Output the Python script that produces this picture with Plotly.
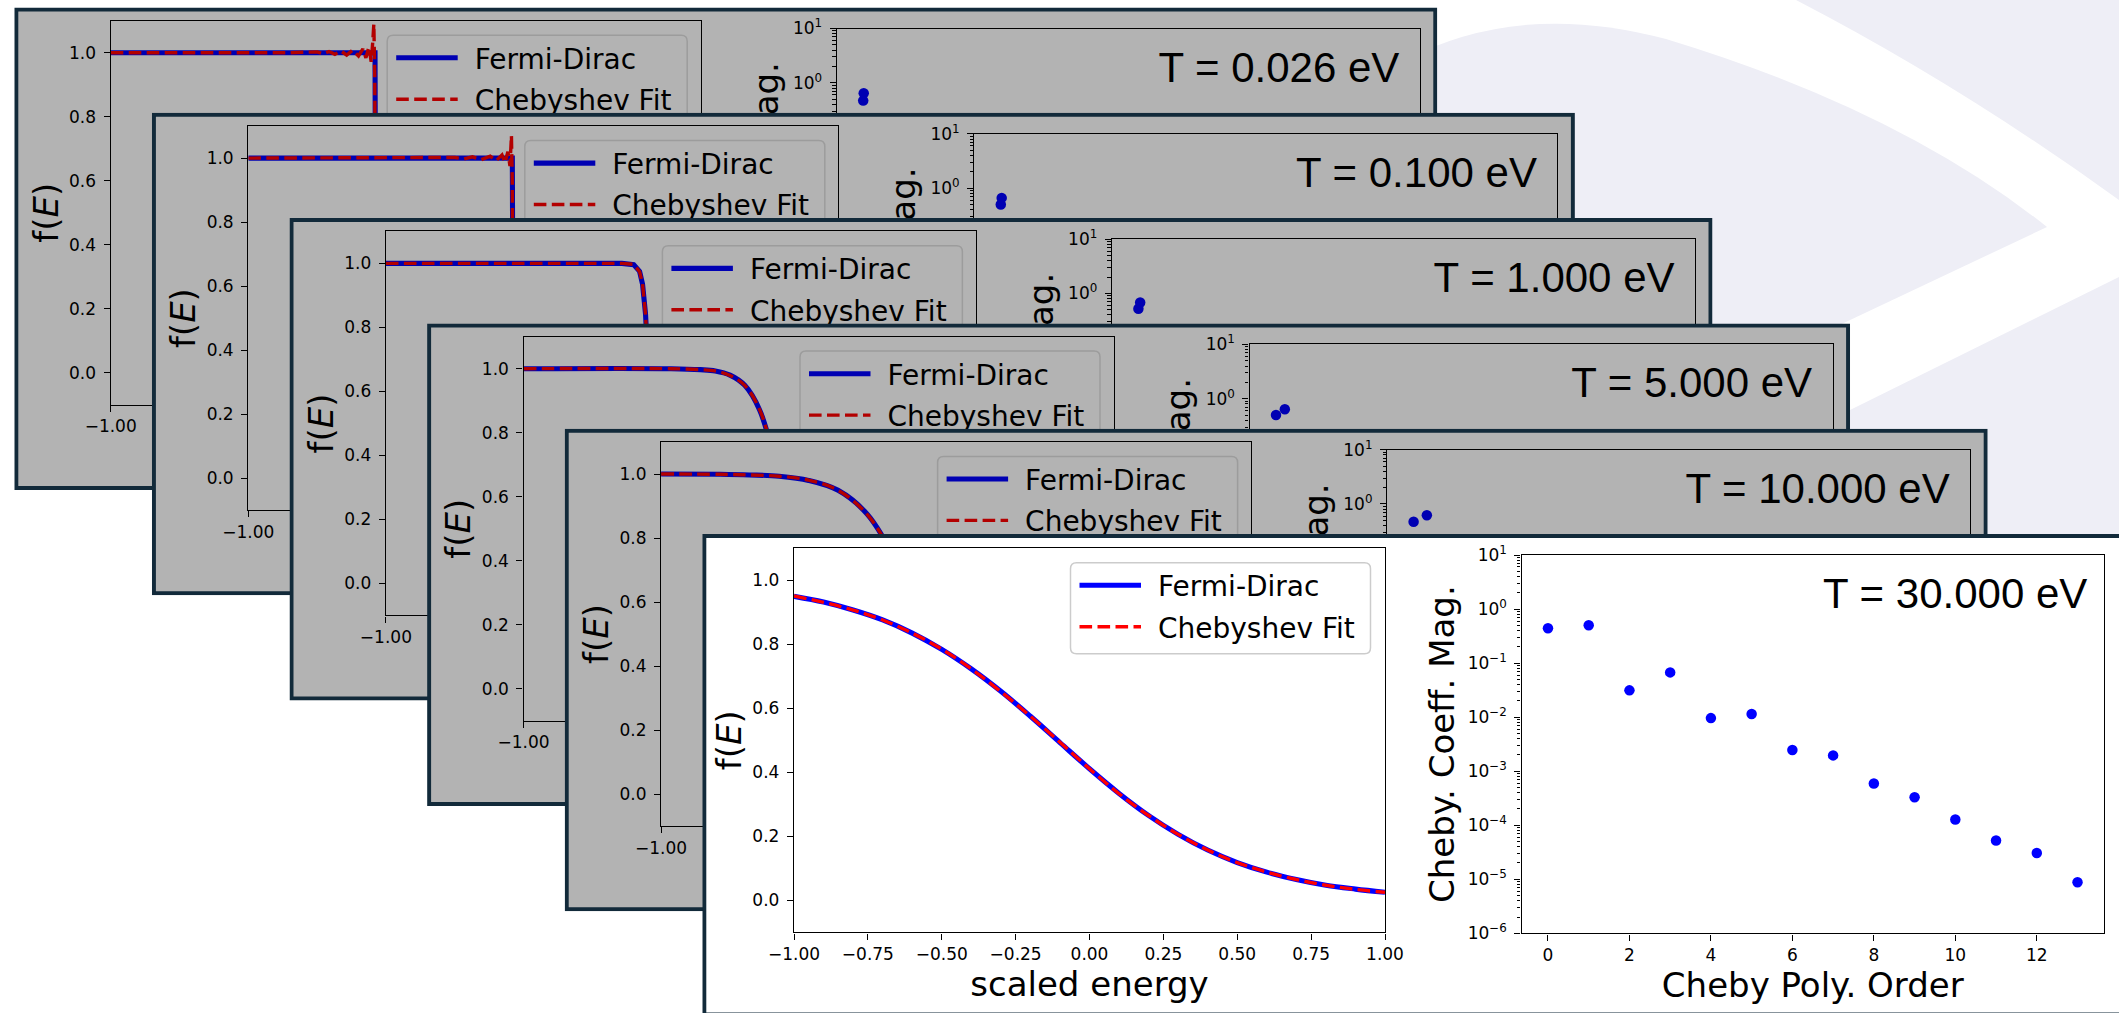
import plotly.graph_objects as go

W, H = 2119, 1013

# ---------------- data ----------------
TEMP_LABELS = ["T = 0.026 eV", "T = 0.100 eV", "T = 1.000 eV",
               "T = 5.000 eV", "T = 10.000 eV", "T = 30.000 eV"]
SERIES_NAMES = ["Fermi-Dirac", "Chebyshev Fit"]
COEF_TITLE = "Cheby. Coeff. Mag."

# T = 0.026 eV
E1_FD = [-1.0, -0.104, -0.101, 1.0]
F1_FD = [1.0, 1.0, 0.0, 0.0]
E1_FIT = [-1.0, -0.40, -0.30, -0.28, -0.26, -0.24, -0.22, -0.20, -0.18, -0.16,
          -0.145, -0.135, -0.125, -0.117, -0.112, -0.108, -0.105, -0.102, -0.097, 1.0]
F1_FIT = [1.0, 1.0, 1.003, 0.997, 1.004, 0.995, 1.006, 0.993, 1.008, 0.99,
          1.012, 0.984, 1.018, 0.972, 1.03, 1.09, 0.93, 0.3, 0.0, 0.0]
# T = 0.100 eV
E2_FD = [-1.0, -0.105, -0.101, 1.0]
F2_FD = [1.0, 1.0, 0.0, 0.0]
E2_FIT = [-1.0, -0.36, -0.30, -0.27, -0.24, -0.21, -0.18, -0.16, -0.14, -0.13,
          -0.12, -0.113, -0.108, -0.105, -0.102, -0.097, 1.0]
F2_FIT = [1.0, 1.0, 1.002, 0.997, 1.004, 0.995, 1.006, 0.992, 1.01, 0.986,
          1.02, 0.975, 1.07, 0.92, 0.3, 0.0, 0.0]
# T = 1.000 eV
E3 = [-1.0, -0.20, -0.16, -0.14, -0.13, -0.12, -0.11, -0.10, -0.09, -0.08, -0.07, -0.05, 0.0, 1.0]
F3_FD = [1.0, 1.0, 0.996, 0.975, 0.935, 0.843, 0.666, 0.426, 0.216, 0.093, 0.037, 0.005, 0.0, 0.0]
F3_FIT = [1.0, 1.0, 0.997, 0.974, 0.936, 0.842, 0.667, 0.425, 0.217, 0.092, 0.038, 0.004, 0.001, 0.0]
# T = 5.000 eV
E4 = [-1.0, -0.5, -0.4, -0.35, -0.3, -0.25, -0.2, -0.15, -0.1, -0.05, 0.0, 0.05, 0.1, 0.2, 1.0]
F4_FD = [1.0, 1.0, 0.997, 0.993, 0.980, 0.948, 0.872, 0.717, 0.485, 0.259, 0.115, 0.046, 0.018, 0.003, 0.0]
F4_FIT = [1.0, 1.0, 0.997, 0.993, 0.979, 0.948, 0.873, 0.716, 0.486, 0.258, 0.116, 0.045, 0.019, 0.003, 0.0]
# T = 10.000 eV
E5 = [-1.0, -0.8, -0.7, -0.6, -0.5, -0.4, -0.3, -0.2, -0.1, 0.0, 0.1, 0.2, 0.3, 0.5, 1.0]
F5_FD = [1.0, 0.999, 0.997, 0.993, 0.980, 0.949, 0.873, 0.719, 0.488, 0.261, 0.116, 0.047, 0.018, 0.003, 0.0]
F5_FIT = [1.0, 0.999, 0.997, 0.993, 0.981, 0.949, 0.872, 0.719, 0.489, 0.260, 0.117, 0.046, 0.018, 0.004, 0.0]
# T = 30.000 eV
E6 = [-1.0, -0.9, -0.8, -0.7, -0.6, -0.5, -0.4, -0.3, -0.2, -0.1, 0.0,
      0.1, 0.2, 0.3, 0.4, 0.5, 0.6, 0.7, 0.8, 0.9, 1.0]
F6_FD = [0.950, 0.932, 0.907, 0.876, 0.835, 0.784, 0.723, 0.653, 0.575, 0.493, 0.411,
         0.334, 0.265, 0.206, 0.157, 0.118, 0.088, 0.065, 0.047, 0.035, 0.025]
F6_FIT = [0.951, 0.931, 0.907, 0.876, 0.835, 0.785, 0.723, 0.652, 0.575, 0.494, 0.411,
          0.333, 0.265, 0.206, 0.157, 0.118, 0.088, 0.065, 0.047, 0.034, 0.025]

# Chebyshev coefficient magnitudes (only the first two are visible on stacked cards)
ORDERS_LOW = [0, 1]
COEF_1 = [0.47, 0.64]
COEF_2 = [0.50, 0.66]
COEF_3 = [0.52, 0.68]
COEF_4 = [0.50, 0.64]
COEF_5 = [0.47, 0.62]
ORDERS_6 = [0, 1, 2, 3, 4, 5, 6, 7, 8, 9, 10, 11, 12, 13]
COEF_6 = [0.44, 0.50, 0.0313, 0.0673, 0.0096, 0.0114, 0.00246, 0.00196,
          5.9e-4, 3.3e-4, 1.28e-4, 5.2e-5, 3.05e-5, 8.8e-6]
N_TERMS = [1000, 600, 300, 60, 40, 13]   # extent of the order axis per card

X_TICKS = [-1.0, -0.75, -0.5, -0.25, 0.0, 0.25, 0.5, 0.75, 1.0]
Y_TICKS = [0.0, 0.2, 0.4, 0.6, 0.8, 1.0]
ORDER_TICKS = [0, 2, 4, 6, 8, 10, 12]
LOG_TICKS = [1e-6, 1e-5, 1e-4, 1e-3, 1e-2, 1e-1, 1e0, 1e1]
LOG_TICKTEXT = ["10<sup>\u22126</sup>", "10<sup>\u22125</sup>", "10<sup>\u22124</sup>",
                "10<sup>\u22123</sup>", "10<sup>\u22122</sup>", "10<sup>\u22121</sup>",
                "10<sup>0</sup>", "10<sup>1</sup>"]

cards = [
    dict(label=TEMP_LABELS[0], e_fd=E1_FD, f_fd=F1_FD, e_fit=E1_FIT, f_fit=F1_FIT,
         orders=ORDERS_LOW, coef=COEF_1, n=N_TERMS[0], shape="linear"),
    dict(label=TEMP_LABELS[1], e_fd=E2_FD, f_fd=F2_FD, e_fit=E2_FIT, f_fit=F2_FIT,
         orders=ORDERS_LOW, coef=COEF_2, n=N_TERMS[1], shape="linear"),
    dict(label=TEMP_LABELS[2], e_fd=E3, f_fd=F3_FD, e_fit=E3, f_fit=F3_FIT,
         orders=ORDERS_LOW, coef=COEF_3, n=N_TERMS[2], shape="linear"),
    dict(label=TEMP_LABELS[3], e_fd=E4, f_fd=F4_FD, e_fit=E4, f_fit=F4_FIT,
         orders=ORDERS_LOW, coef=COEF_4, n=N_TERMS[3], shape="spline"),
    dict(label=TEMP_LABELS[4], e_fd=E5, f_fd=F5_FD, e_fit=E5, f_fit=F5_FIT,
         orders=ORDERS_LOW, coef=COEF_5, n=N_TERMS[4], shape="spline"),
    dict(label=TEMP_LABELS[5], e_fd=E6, f_fd=F6_FD, e_fit=E6, f_fit=F6_FIT,
         orders=ORDERS_6, coef=COEF_6, n=N_TERMS[5], shape="spline"),
]

# ---------------- styling / geometry ----------------
FONT = "DejaVu Sans"
TFONT = "Liberation Sans, Arial, sans-serif"
BORDER = "#122a3a"
GRAY = "#b3b3b3"
LAV = "#eeeef6"

CARD_X0, CARD_Y0 = 14.3, 7.5
STEP_X, STEP_Y = 137.6, 105.3
CARD_W, CARD_H = 1423.0, 482.5
LEFT_LOW = (96.4, 13.3, 590.0, 384.0)
LEFT_FRONT = (91.7, 14.3, 591.0, 384.0)
RIGHT_LOW = (822.4, 21.0, 583.0, 380.0)
RIGHT_FRONT = (819.2, 21.0, 582.5, 378.3)
LEG_BOX = (276.5, 14.4, 576.5, 105.4)   # legend frame inside the f(E) panel, px
LEG_R = 6.0

MINOR_VALS = [m * 10.0 ** e for e in range(-6, 1) for m in range(2, 10)]

fig = go.Figure()
lay = {}
shapes = []


def axkey(kind, n):
    return f"{kind}axis" if n == 1 else f"{kind}axis{n}"


def axref(kind, n):
    return kind if n == 1 else f"{kind}{n}"


def dom(x0, y0, w, h):
    return ([max(0.0, x0 / W), min(1.0, (x0 + w) / W)],
            [max(0.0, 1 - (y0 + h) / H), min(1.0, 1 - y0 / H)])


def base_axis(**kw):
    d = dict(showline=True, linecolor="black", linewidth=1.4, mirror=True,
             ticks="outside", ticklen=6, tickwidth=1.4, tickcolor="black",
             showgrid=False, zeroline=False, fixedrange=True, automargin=False,
             tickfont=dict(family=FONT, size=17, color="black"))
    d.update(kw)
    return d


TITLE_FONT = dict(family=FONT, size=34, color="black")

for k, c in enumerate(cards):
    front = k == len(cards) - 1
    cx, cy = CARD_X0 + STEP_X * k, CARD_Y0 + STEP_Y * k
    n_card, n_left, n_right = 3 * k + 1, 3 * k + 2, 3 * k + 3
    bg = "white" if front else GRAY
    blue = "#0000ff" if front else "#0000b3"
    red = "#ff0000" if front else "#b30000"
    leg_edge = "#cccccc" if front else "#9c9c9c"
    styles = [dict(color=blue, width=5.1), dict(color=red, width=3.4, dash="12.6px,5.4px")]

    # ---- card (background panel) ----
    vis_w = min(CARD_W, W - cx)
    vis_h = min(CARD_H, H - cy)
    dx_, dy_ = dom(cx, cy, vis_w, vis_h)
    xa, ya = axref("x", n_card), axref("y", n_card)
    lay[axkey("x", n_card)] = dict(domain=dx_, range=[0, vis_w], visible=False,
                                   fixedrange=True, anchor=ya)
    lay[axkey("y", n_card)] = dict(domain=dy_, range=[vis_h, 0], visible=False,
                                   fixedrange=True, anchor=xa)
    shapes.append(dict(type="rect", xref=xa, yref=ya, layer="below",
                       x0=2, x1=CARD_W - 2, y0=2, y1=CARD_H - 2,
                       fillcolor=bg, line=dict(color=BORDER, width=4)))
    if not front:
        # rotated y title of the coefficient panel, clipped by the card on top
        shapes.append(dict(type="rect", xref=xa, yref=ya, layer="below",
                           x0=719.4, x1=779.4, y0=52.5, y1=374.5,
                           fillcolor="rgba(0,0,0,0)", line=dict(width=0),
                           label=dict(text=COEF_TITLE, textangle=-90,
                                      textposition="middle center",
                                      font=dict(family=FONT, size=34, color="black"))))
    fig.add_trace(go.Scatter(
        x=[1385], y=[63.5], mode="text", text=[c["label"]], textposition="middle left",
        textfont=dict(family=TFONT, size=42, color="black"),
        xaxis=xa, yaxis=ya, hoverinfo="skip", showlegend=False))

    # ---- left panel: f(E) ----
    lx0, ly0, lw_, lh_ = LEFT_FRONT if front else LEFT_LOW
    dx_, dy_ = dom(cx + lx0, cy + ly0, lw_, lh_)
    xa, ya = axref("x", n_left), axref("y", n_left)
    xl = base_axis(domain=dx_, range=[-1, 1], anchor=ya, ticklabelstandoff=0,
                   tickvals=X_TICKS if front else X_TICKS[:1], tickformat=".2f")
    if front:
        xl["title"] = dict(text="scaled energy", font=TITLE_FONT, standoff=5)
    lay[axkey("x", n_left)] = xl
    lay[axkey("y", n_left)] = base_axis(
        domain=dy_, range=[-0.1, 1.1], tickvals=Y_TICKS, tickformat=".1f", anchor=xa,
        ticklabelstandoff=4,
        title=dict(text="f(<i>E</i>)", font=TITLE_FONT, standoff=0))
    fig.add_trace(go.Scatter(x=c["e_fd"], y=c["f_fd"], mode="lines", name=SERIES_NAMES[0],
                             line=dict(shape=c["shape"], **styles[0]),
                             xaxis=xa, yaxis=ya, hoverinfo="skip", showlegend=False))
    fig.add_trace(go.Scatter(x=c["e_fit"], y=c["f_fit"], mode="lines", name=SERIES_NAMES[1],
                             line=dict(shape=c["shape"], **styles[1]),
                             xaxis=xa, yaxis=ya, hoverinfo="skip", showlegend=False))

    # legend drawn inside the panel (rounded frame + samples + labels)
    def px2x(px, pw=lw_):
        return -1 + 2 * px / pw

    def px2y(py, ph=lh_):
        return 1.1 - 1.2 * py / ph

    def pt(px, py):
        return f"{px2x(px):.5f},{px2y(py):.5f}"

    bx0, by0, bx1, by1 = LEG_BOX
    r = LEG_R
    frame = (f"M{pt(bx0 + r, by0)} L{pt(bx1 - r, by0)} Q{pt(bx1, by0)} {pt(bx1, by0 + r)} "
             f"L{pt(bx1, by1 - r)} Q{pt(bx1, by1)} {pt(bx1 - r, by1)} "
             f"L{pt(bx0 + r, by1)} Q{pt(bx0, by1)} {pt(bx0, by1 - r)} "
             f"L{pt(bx0, by0 + r)} Q{pt(bx0, by0)} {pt(bx0 + r, by0)} Z")
    shapes.append(dict(type="path", xref=xa, yref=ya, layer="below", path=frame,
                       fillcolor=bg, line=dict(color=leg_edge, width=1.5)))
    for i, row in enumerate([37.0, 78.4]):
        fig.add_trace(go.Scatter(
            x=[px2x(285.5), px2x(347.0)], y=[px2y(row), px2y(row)], mode="lines",
            line=styles[i], xaxis=xa, yaxis=ya, hoverinfo="skip", showlegend=False))
        fig.add_trace(go.Scatter(
            x=[px2x(364.0)], y=[px2y(row + 4)], mode="text", text=[SERIES_NAMES[i]],
            textposition="middle right", textfont=dict(family=FONT, size=28, color="black"),
            xaxis=xa, yaxis=ya, hoverinfo="skip", showlegend=False))

    # ---- right panel: coefficient magnitudes ----
    rx0, ry0, rw_, rh_ = RIGHT_FRONT if front else RIGHT_LOW
    dx_, dy_ = dom(cx + rx0, cy + ry0, rw_, rh_)
    xa, ya = axref("x", n_right), axref("y", n_right)
    n = c["n"]
    minor = dict(tickvals=MINOR_VALS, ticks="outside", ticklen=3.4, tickwidth=1, tickcolor="black")
    if front:
        lay[axkey("x", n_right)] = base_axis(
            domain=dx_, range=[-0.05 * n, 1.05 * n], tickvals=ORDER_TICKS, anchor=ya,
            ticklabelstandoff=0,
            title=dict(text="Cheby Poly. Order", font=TITLE_FONT, standoff=5))
        lay[axkey("y", n_right)] = base_axis(
            domain=dy_, type="log", range=[-6, 1], tickvals=LOG_TICKS, ticktext=LOG_TICKTEXT,
            minor=minor, anchor=xa, ticklabelstandoff=4,
            title=dict(text=COEF_TITLE, font=TITLE_FONT, standoff=2))
    else:
        lay[axkey("x", n_right)] = base_axis(
            domain=dx_, range=[-0.05 * n, 1.05 * n], showticklabels=False, ticks="", anchor=ya)
        lay[axkey("y", n_right)] = base_axis(
            domain=dy_, type="log", range=[-6, 1], tickvals=LOG_TICKS[-2:],
            ticktext=LOG_TICKTEXT[-2:], minor=minor, anchor=xa, ticklabelstandoff=4)
    fig.add_trace(go.Scatter(x=c["orders"], y=c["coef"], mode="markers",
                             marker=dict(size=10.5, color=blue),
                             xaxis=xa, yaxis=ya, hoverinfo="skip", showlegend=False))


# ---------------- background watermark ----------------
def P(x, y):
    return f"{x / W:.5f},{1 - y / H:.5f}"


shapes = [
    dict(type="path", xref="paper", yref="paper", layer="below", fillcolor=LAV, line=dict(width=0),
         path=f"M{P(1796, 0)} L{P(2119, 0)} L{P(2119, 200)} Q{P(1960, 85)} {P(1796, 0)} Z"),
    dict(type="path", xref="paper", yref="paper", layer="below", fillcolor=LAV, line=dict(width=0),
         path=(f"M{P(1405, 60)} Q{P(1520, 0)} {P(1666, 39)} Q{P(1900, 110)} {P(2047, 227)} "
               f"L{P(1848, 321)} L{P(1500, 485)} L{P(1405, 485)} Z")),
    dict(type="path", xref="paper", yref="paper", layer="below", fillcolor=LAV, line=dict(width=0),
         path=f"M{P(2119, 277)} L{P(1848, 411)} L{P(1560, 560)} L{P(2119, 560)} Z"),
] + shapes

fig.update_layout(width=W, height=H, autosize=False,
                  margin=dict(l=0, r=0, t=0, b=0),
                  paper_bgcolor="white", plot_bgcolor="rgba(0,0,0,0)",
                  showlegend=False, shapes=shapes, **lay)

fig.write_html("out.html", config={"displayModeBar": False},
               post_script="document.body.style.margin='0px';")
